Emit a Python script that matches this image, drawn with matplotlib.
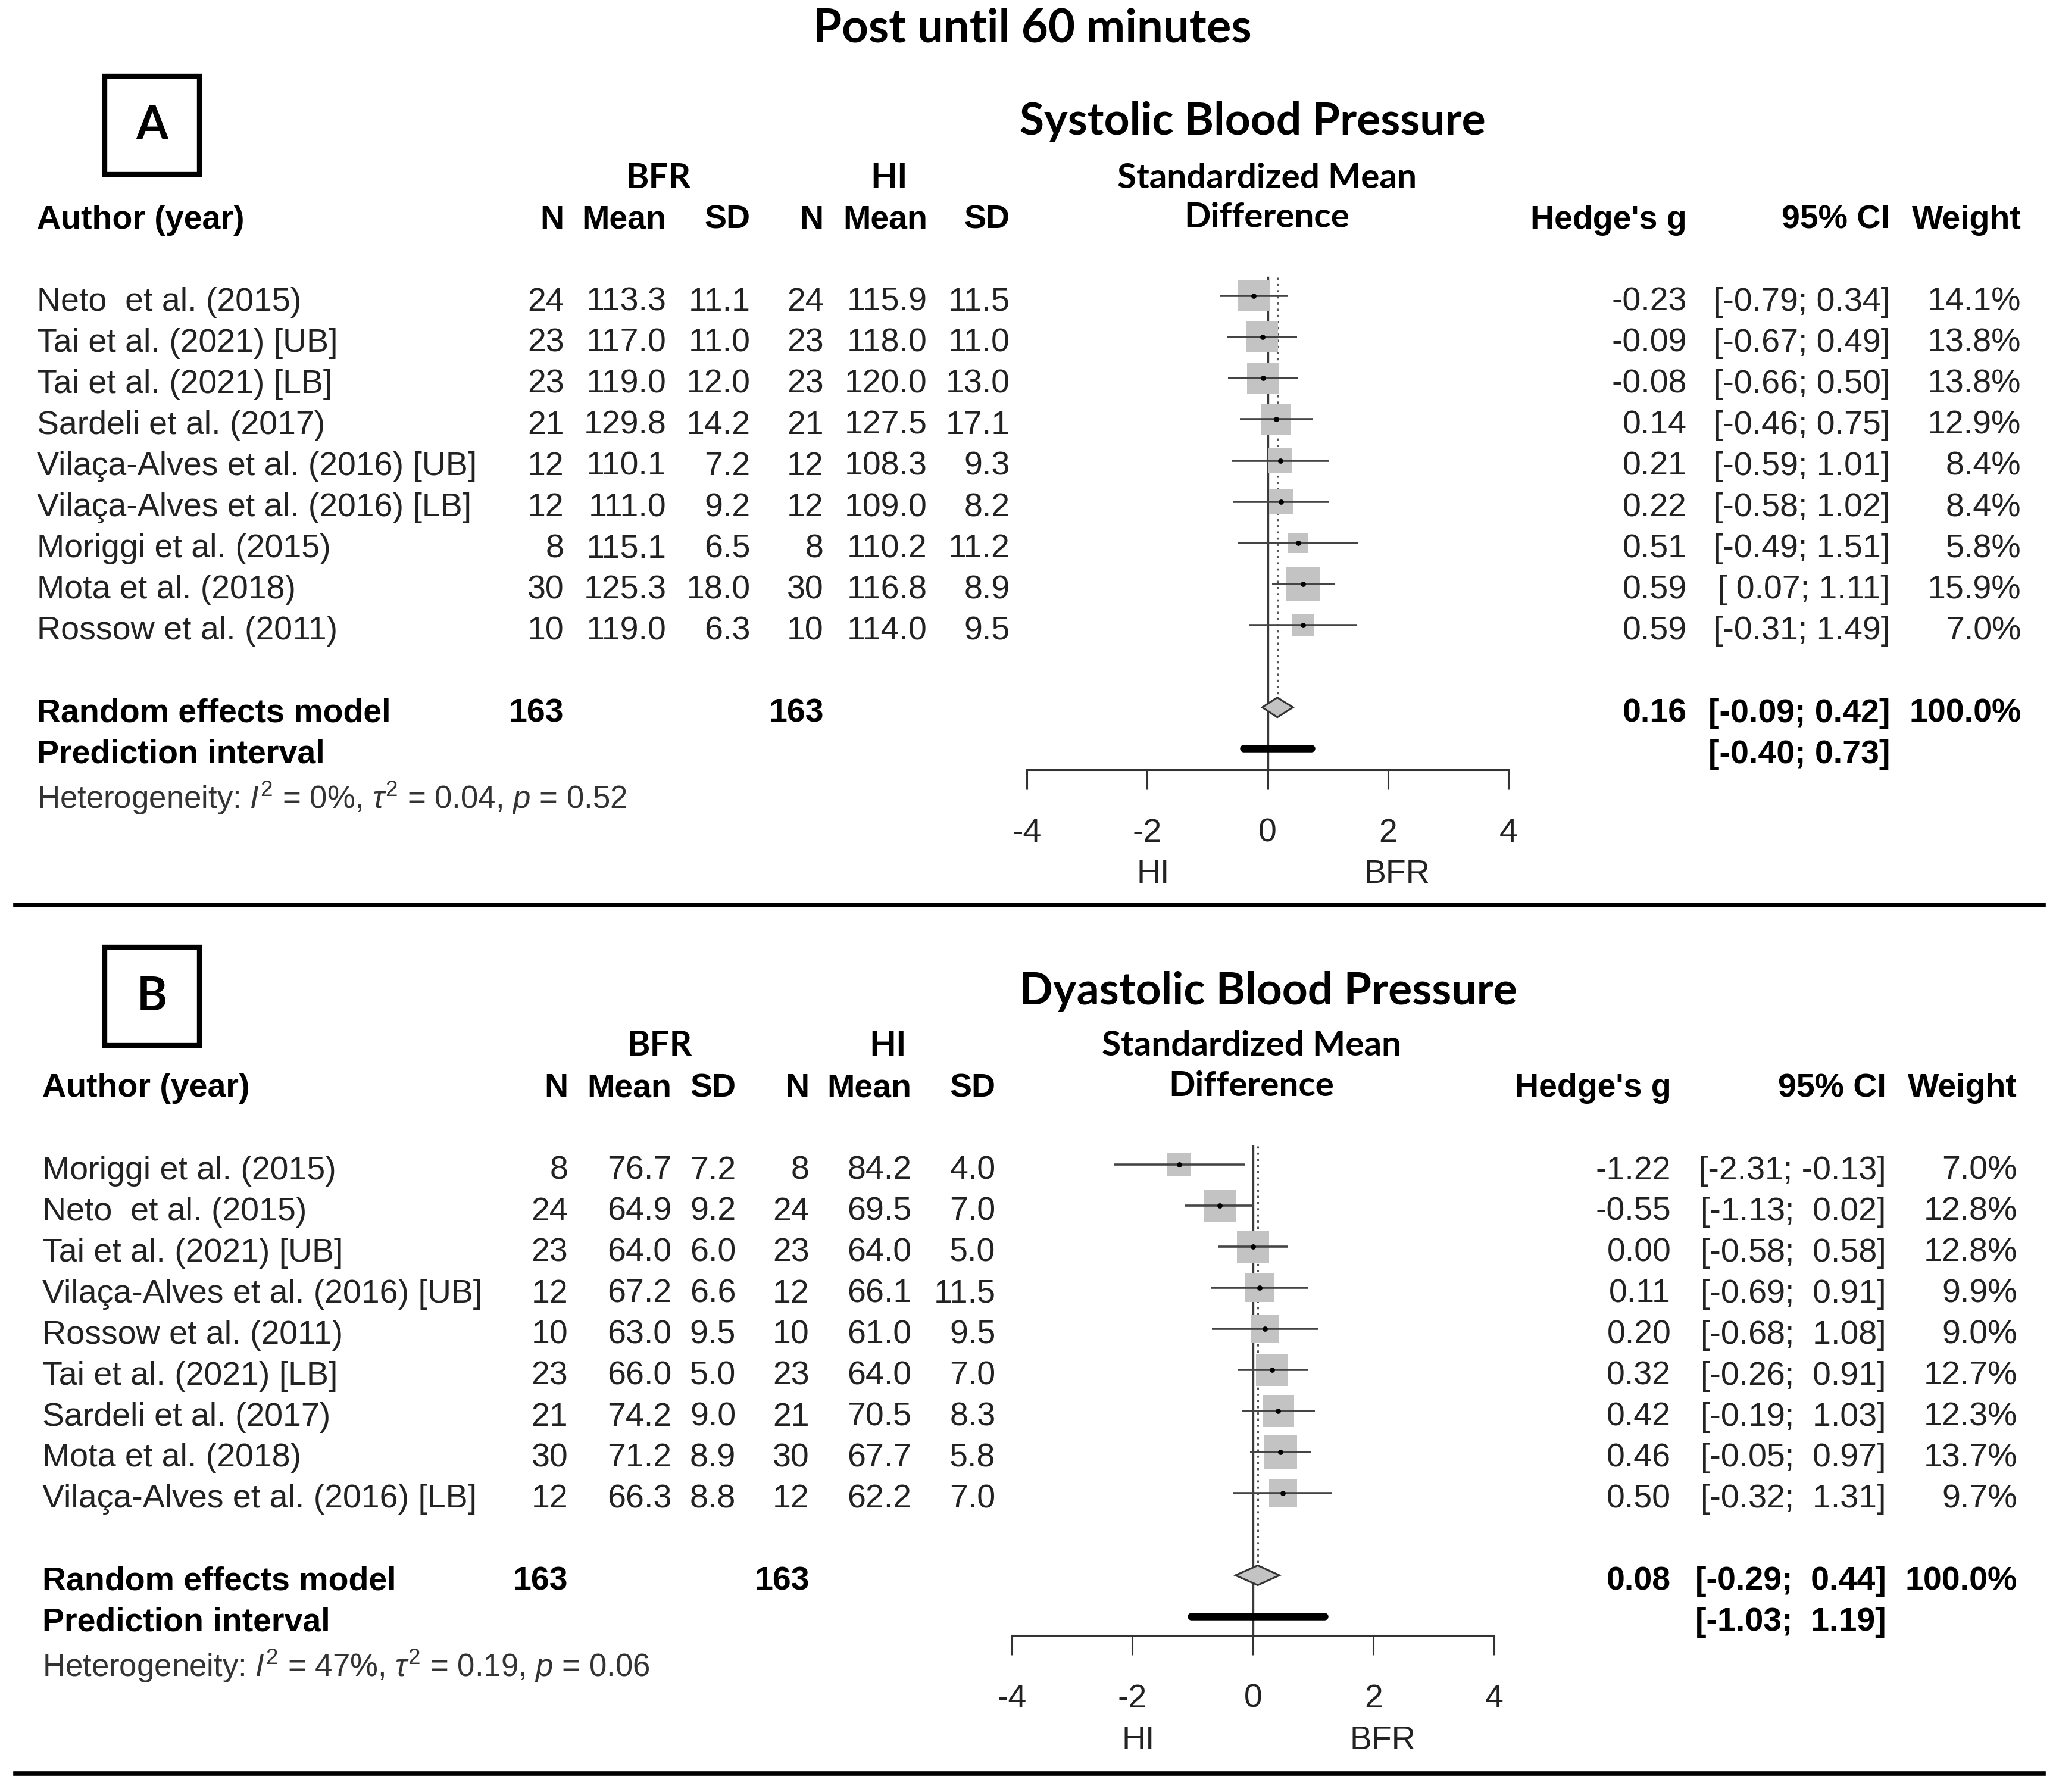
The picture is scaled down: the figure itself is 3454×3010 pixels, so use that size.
import matplotlib
matplotlib.use("Agg")
import matplotlib.pyplot as plt
from matplotlib.patches import Rectangle, Polygon
from matplotlib.lines import Line2D
from matplotlib.transforms import blended_transform_factory
import numpy as np

plt.rcParams['font.family'] = ['Liberation Sans', 'DejaVu Sans']
plt.rcParams['mathtext.fontset'] = 'custom'
plt.rcParams['mathtext.rm'] = 'Liberation Sans'
plt.rcParams['mathtext.it'] = 'Liberation Sans:italic'
plt.rcParams['mathtext.bf'] = 'Liberation Sans:bold'
plt.rcParams['axes.unicode_minus'] = False

# ---- Panel A: systolic blood pressure ----
sbp_authors = ["Neto  et al. (2015)", "Tai et al. (2021) [UB]", "Tai et al. (2021) [LB]",
               "Sardeli et al. (2017)", "Vilaça-Alves et al. (2016) [UB]",
               "Vilaça-Alves et al. (2016) [LB]", "Moriggi et al. (2015)",
               "Mota et al. (2018)", "Rossow et al. (2011)"]
sbp_n_bfr = [24, 23, 23, 21, 12, 12, 8, 30, 10]
sbp_mean_bfr = [113.3, 117.0, 119.0, 129.8, 110.1, 111.0, 115.1, 125.3, 119.0]
sbp_sd_bfr = [11.1, 11.0, 12.0, 14.2, 7.2, 9.2, 6.5, 18.0, 6.3]
sbp_n_hi = [24, 23, 23, 21, 12, 12, 8, 30, 10]
sbp_mean_hi = [115.9, 118.0, 120.0, 127.5, 108.3, 109.0, 110.2, 116.8, 114.0]
sbp_sd_hi = [11.5, 11.0, 13.0, 17.1, 9.3, 8.2, 11.2, 8.9, 9.5]
sbp_g = [-0.23, -0.09, -0.08, 0.14, 0.21, 0.22, 0.51, 0.59, 0.59]
sbp_lo = [-0.79, -0.67, -0.66, -0.46, -0.59, -0.58, -0.49, 0.07, -0.31]
sbp_hi = [0.34, 0.49, 0.50, 0.75, 1.01, 1.02, 1.51, 1.11, 1.49]
sbp_weight = [14.1, 13.8, 13.8, 12.9, 8.4, 8.4, 5.8, 15.9, 7.0]
sbp_pooled = (0.16, -0.09, 0.42)
sbp_pred = (-0.40, 0.73)
sbp_het = ("0%", "0.04", "0.52")

# ---- Panel B: diastolic blood pressure ----
dbp_authors = ["Moriggi et al. (2015)", "Neto  et al. (2015)", "Tai et al. (2021) [UB]",
               "Vilaça-Alves et al. (2016) [UB]", "Rossow et al. (2011)",
               "Tai et al. (2021) [LB]", "Sardeli et al. (2017)", "Mota et al. (2018)",
               "Vilaça-Alves et al. (2016) [LB]"]
dbp_n_bfr = [8, 24, 23, 12, 10, 23, 21, 30, 12]
dbp_mean_bfr = [76.7, 64.9, 64.0, 67.2, 63.0, 66.0, 74.2, 71.2, 66.3]
dbp_sd_bfr = [7.2, 9.2, 6.0, 6.6, 9.5, 5.0, 9.0, 8.9, 8.8]
dbp_n_hi = [8, 24, 23, 12, 10, 23, 21, 30, 12]
dbp_mean_hi = [84.2, 69.5, 64.0, 66.1, 61.0, 64.0, 70.5, 67.7, 62.2]
dbp_sd_hi = [4.0, 7.0, 5.0, 11.5, 9.5, 7.0, 8.3, 5.8, 7.0]
dbp_g = [-1.22, -0.55, 0.00, 0.11, 0.20, 0.32, 0.42, 0.46, 0.50]
dbp_lo = [-2.31, -1.13, -0.58, -0.69, -0.68, -0.26, -0.19, -0.05, -0.32]
dbp_hi = [-0.13, 0.02, 0.58, 0.91, 1.08, 0.91, 1.03, 0.97, 1.31]
dbp_weight = [7.0, 12.8, 12.8, 9.9, 9.0, 12.7, 12.3, 13.7, 9.7]
dbp_pooled = (0.08, -0.29, 0.44)
dbp_pred = (-1.03, 1.19)
dbp_het = ("47%", "0.19", "0.06")

xticks = [-4, -2, 0, 2, 4]

# layout grid of the reference (scaled down), converted to figure fractions
W, H = 1568.0, 1366.0


def fx(x):
    return x / W


def fy(y):
    return 1 - y / H


TXT = 40
TXT_COLOR = '#222222'
TITLE_FONT = ['Lato', 'DejaVu Sans']

layout_a = dict(letter='A', box_y=58, title='Systolic Blood Pressure', title_x=955, title_y=93,
                hdr1_y=136, hdr2_y=166, bfr_x=502, hi_x=678, smd_x=966,
                author_x=28, cols=[430, 508, 572, 628, 707, 770, 1286, 1441, 1541],
                xm4=783, xp4=1150, y0=225.6, dy=31.36, ax_idx=11.52)
layout_b = dict(letter='B', box_y=722, title='Dyastolic Blood Pressure', title_x=967, title_y=756,
                hdr1_y=797, hdr2_y=828, bfr_x=503, hi_x=677, smd_x=954,
                author_x=32, cols=[433, 512, 561, 617, 695, 759, 1274, 1438, 1538],
                xm4=771.5, xp4=1139, y0=887.8, dy=31.3, ax_idx=11.47)


def ci_strings(lows, highs):
    ls = [f"{v:.2f}" for v in lows]
    hs = [f"{v:.2f}" for v in highs]
    wl = max(len(s) for s in ls)
    wh = max(len(s) for s in hs)
    return [f"[{a.rjust(wl)}; {b.rjust(wh)}]" for a, b in zip(ls, hs)]


def draw_panel(fig, L, authors, n_bfr, m_bfr, s_bfr, n_hi, m_hi, s_hi, g, lo, hi, w, pooled, pred, het):
    y0, dy = L['y0'], L['dy']
    c = L['cols']

    def row_y(i):
        return fy(y0 + i * dy + 2)

    # panel letter box and titles
    fig.add_artist(Rectangle((fx(80), fy(L['box_y'] + 75)), 72 / W, 75 / H, fill=False,
                             lw=6, ec='black', transform=fig.transFigure))
    fig.text(fx(116), fy(L['box_y'] + 38), L['letter'], ha='center', va='center',
             fontsize=56, fontweight='bold', family=TITLE_FONT)
    fig.text(fx(L['title_x']), fy(L['title_y']), L['title'], ha='center', va='center',
             fontsize=54, fontweight='bold', family=TITLE_FONT)
    hk = dict(ha='center', va='center', fontsize=42, fontweight='bold', family=TITLE_FONT)
    fig.text(fx(L['bfr_x']), fy(L['hdr1_y']), 'BFR', **hk)
    fig.text(fx(L['hi_x']), fy(L['hdr1_y']), 'HI', **hk)
    fig.text(fx(L['smd_x']), fy(L['hdr1_y']), 'Standardized Mean', **hk)
    fig.text(fx(L['smd_x']), fy(L['hdr2_y']), 'Difference', **hk)

    # column headers
    hy = fy(L['hdr2_y'] - 1)
    fig.text(fx(L['author_x']), hy, 'Author (year)', ha='left', va='center_baseline', fontsize=TXT, fontweight='bold')
    for x, lab in zip(c, ['N', 'Mean', 'SD', 'N', 'Mean', 'SD', "Hedge's g", '95% CI', 'Weight']):
        fig.text(fx(x), hy, lab, ha='right', va='center_baseline', fontsize=TXT, fontweight='bold')

    # study rows
    cis = ci_strings(list(lo) + [pooled[1], pred[0]], list(hi) + [pooled[2], pred[1]])
    for i in range(len(authors)):
        y = row_y(i)
        kw = dict(va='center_baseline', fontsize=TXT, color=TXT_COLOR)
        fig.text(fx(L['author_x']), y, authors[i], ha='left', **kw)
        vals = [f"{n_bfr[i]}", f"{m_bfr[i]:.1f}", f"{s_bfr[i]:.1f}",
                f"{n_hi[i]}", f"{m_hi[i]:.1f}", f"{s_hi[i]:.1f}",
                f"{g[i]:.2f}", cis[i], f"{w[i]:.1f}%"]
        for x, v in zip(c, vals):
            fig.text(fx(x), y, v, ha='right', **kw)

    # pooled row
    nr = len(authors)
    y = row_y(nr + 1)
    kb = dict(va='center_baseline', fontsize=TXT, fontweight='bold', color='black')
    fig.text(fx(L['author_x']), y, 'Random effects model', ha='left', **kb)
    fig.text(fx(c[0]), y, f"{sum(n_bfr)}", ha='right', **kb)
    fig.text(fx(c[3]), y, f"{sum(n_hi)}", ha='right', **kb)
    fig.text(fx(c[6]), y, f"{pooled[0]:.2f}", ha='right', **kb)
    fig.text(fx(c[7]), y, cis[nr], ha='right', **kb)
    fig.text(fx(c[8]), y, "100.0%", ha='right', **kb)
    y = row_y(nr + 2)
    fig.text(fx(L['author_x']), y, 'Prediction interval', ha='left', **kb)
    fig.text(fx(c[7]), y, cis[nr + 1], ha='right', **kb)
    fig.text(fx(L['author_x']), row_y(nr + 3.05),
             rf"Heterogeneity: $I^2$ = {het[0]}, $\tau^2$ = {het[1]}, $p$ = {het[2]}",
             ha='left', va='center_baseline', fontsize=38, color='#333333')

    # forest plot
    ax = fig.add_axes([fx(L['xm4']), fy(y0 + L['ax_idx'] * dy),
                       (L['xp4'] - L['xm4']) / W, (L['ax_idx'] + 1) * dy / H])
    ax.set_xlim(-4, 4)
    ax.set_ylim(L['ax_idx'], -1)
    ax.patch.set_alpha(0)
    rows = np.arange(nr)
    g = np.asarray(g)
    w = np.asarray(w)
    side_pt = 56 * np.sqrt(w / w.max()) * 0.72
    ax.plot([0, 0], [-0.45, L['ax_idx']], color='#3a3a3a', lw=2.4, zorder=1, clip_on=False)
    ax.plot([pooled[0]] * 2, [-0.45, nr + 0.7], color='#555555', lw=2.2,
            ls=(0, (1.2, 2.2)), zorder=1)
    ax.scatter(g, rows, s=side_pt ** 2, marker='s', color='#c3c3c3', linewidths=0, zorder=2)
    ax.hlines(rows, lo, hi, color='#444444', lw=2.6, zorder=3)
    ax.scatter(g, rows, s=40, marker='o', color='black', linewidths=0, zorder=4)
    d = nr + 1
    ax.add_patch(Polygon([[pooled[1], d], [pooled[0], d - 0.24], [pooled[2], d], [pooled[0], d + 0.24]],
                         closed=True, fc='#c3c3c3', ec='#333333', lw=2.2, zorder=3))
    ax.plot([pred[0], pred[1]], [nr + 2, nr + 2], color='black', lw=9, solid_capstyle='round', zorder=3)

    for s in ['left', 'right', 'top']:
        ax.spines[s].set_visible(False)
    ax.spines['bottom'].set_bounds(-4, 4)
    ax.spines['bottom'].set_linewidth(2.2)
    ax.spines['bottom'].set_color('#333333')
    ax.set_yticks([])
    ax.set_xticks(xticks)
    ax.set_xticklabels([str(t) for t in xticks])
    ax.tick_params(axis='x', direction='out', length=24, width=2.2, pad=34,
                   labelsize=40, color='#333333', labelcolor=TXT_COLOR)
    tr = blended_transform_factory(ax.transData, fig.transFigure)
    lab_y = fy(y0 + L['ax_idx'] * dy + 80)
    ax.text(-1.9, lab_y, 'HI', transform=tr, ha='center', va='center', fontsize=40, color=TXT_COLOR)
    ax.text(2.15, lab_y, 'BFR', transform=tr, ha='center', va='center', fontsize=40, color=TXT_COLOR)
    return ax


fig = plt.figure(figsize=(34.55, 30.10), dpi=100)
fig.text(fx(787), fy(22), 'Post until 60 minutes', ha='center', va='center',
         fontsize=56, fontweight='bold', family=TITLE_FONT)

draw_panel(fig, layout_a, sbp_authors, sbp_n_bfr, sbp_mean_bfr, sbp_sd_bfr, sbp_n_hi, sbp_mean_hi,
           sbp_sd_hi, sbp_g, sbp_lo, sbp_hi, sbp_weight, sbp_pooled, sbp_pred, sbp_het)
draw_panel(fig, layout_b, dbp_authors, dbp_n_bfr, dbp_mean_bfr, dbp_sd_bfr, dbp_n_hi, dbp_mean_hi,
           dbp_sd_hi, dbp_g, dbp_lo, dbp_hi, dbp_weight, dbp_pooled, dbp_pred, dbp_het)

# horizontal separators
for yy in [690, 1352]:
    fig.add_artist(Line2D([fx(12), fx(1558)], [fy(yy), fy(yy)], lw=5.5, color='black',
                          transform=fig.transFigure))

fig.savefig('out.png', dpi=100, facecolor='white')
